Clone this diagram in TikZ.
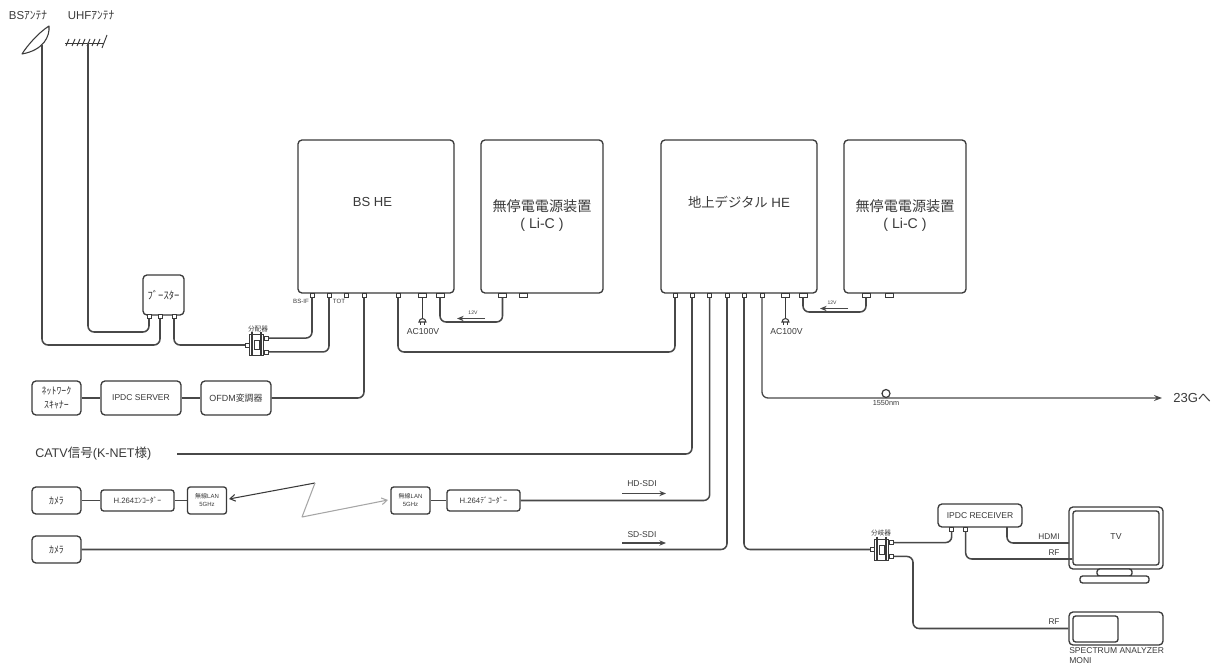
\documentclass[tikz,border=0pt]{standalone}
\usepackage{fontspec}
\setmainfont{Liberation Sans}
\newfontfamily\cjk{Noto Sans CJK JP}
\usetikzlibrary{arrows.meta,calc}
\definecolor{ink}{HTML}{3A3A3A}
\definecolor{wirec}{HTML}{484848}
\tikzset{
  sz/.style 2 args={minimum width=#1*0.75pt,minimum height=#2*0.75pt},
  rbox/.style={draw=ink,line width=1pt,rounded corners=3pt,fill=white,inner sep=0pt,align=center,text=ink},
  sbox/.style={rbox,rounded corners=2pt},
  port/.style={draw=ink,line width=.6pt,fill=white,inner sep=0pt,minimum width=3pt,minimum height=3pt},
  dport/.style={port,minimum width=6pt},
  wire/.style={draw=wirec,line width=1.15pt,rounded corners=4.5pt},
  thin wire/.style={draw=ink,line width=.9pt},
  lab/.style={inner sep=0pt,text=ink,align=center},
  sig/.style={draw=wirec,line width=1.1pt,-{Stealth[length=5pt,width=4pt]}},
}
\newcommand{\splitter}[3]{%
  \node[draw=ink,line width=.7pt,fill=white,inner sep=0pt,sz={14}{21}] (#1) at (#2,#3) {};
  \node[draw=ink,line width=.6pt,fill=white,inner sep=0pt,sz={5}{9}] (#1c) at (#2,#3) {};
  \draw[ink,line width=1.2pt] (#1.north west) ++(2.2pt,1.5pt) -- ++(0,-18pt);
  \draw[ink,line width=1.2pt] (#1.north east) ++(-2.2pt,1.5pt) -- ++(0,-18pt);
  \node[port] (#1l) at ($(#1.west)+(-1.5pt,0)$) {};
  \node[port] (#1a) at ($(#1.east)+(1.5pt,5.2pt)$) {};
  \node[port] (#1b) at ($(#1.east)+(1.5pt,-5.2pt)$) {};
}
\newcommand{\upstext}{\raisebox{8.8pt}{\begin{tabular}{@{}c@{}}{\cjk 無停電電源装置}\\( Li-C )\end{tabular}}}
\begin{document}
\begin{tikzpicture}[x=0.75pt,y=-0.75pt]
\useasboundingbox (0,0) rectangle (1216,666);

% antennas
\node[lab,font=\fontsize{8.6}{9}\selectfont] (bsant) at (28,15) {BS{\cjk ｱﾝﾃﾅ}};
\node[lab,font=\fontsize{8.6}{9}\selectfont] (uhfant) at (91,15) {UHF{\cjk ｱﾝﾃﾅ}};
\draw[ink,line width=.8pt,line join=round,fill=white] (22,54) .. controls (27,46) and (38,33) .. (49,26) .. controls (50,36) and (44,50) .. (22,54) -- cycle;
\coordinate (dish) at (42,45);
\coordinate (yagi) at (88,43);
\draw[ink,line width=.7pt] (65,43) -- (104,43);
\foreach \xx in {66,72,77,82,87,92,97}{\draw[ink,line width=.7pt] (\xx,46) -- (\xx+3,39);}
\draw[ink,line width=.7pt] (102,48) -- (107,35);

% main boxes
\node[rbox,sz={156}{153},font=\fontsize{9.8}{12}\selectfont] (bshe) at (376,216.5) {\hspace*{-5.2pt}\raisebox{21.7pt}{BS HE}};
\node[rbox,sz={122}{153},font=\fontsize{10.6}{12.75}\selectfont] (ups1) at (542,216.5) {\upstext};
\node[rbox,sz={156}{153},font=\fontsize{10}{12}\selectfont] (dtv) at (739,216.5) {\raisebox{21.7pt}{{\cjk 地上デジタル} HE}};
\node[rbox,sz={122}{153},font=\fontsize{10.6}{12.75}\selectfont] (ups2) at (905,216.5) {\upstext};
\node[rbox,sz={41}{40},font=\fontsize{8}{9}\selectfont\cjk] (boost) at (163.5,295) {ﾌﾞｰｽﾀｰ};

% ports
\foreach \n/\xx in {b1/149,b2/160,b3/174}{\node[port] (\n) at (\xx,316.5) {};}
\foreach \n/\xx in {h1/312,h2/329,h3/346.7,h4/364,h5/398}{\node[port] (\n) at (\xx,295) {};}
\foreach \n/\xx in {h6/422.5,h7/440}{\node[dport] (\n) at (\xx,295) {};}
\foreach \n/\xx in {u1/502.5,u1b/523}{\node[dport] (\n) at (\xx,295) {};}
\foreach \n/\xx in {d1/675,d2/692,d3/709.7,d4/727,d5/744,d6/762}{\node[port] (\n) at (\xx,295) {};}
\foreach \n/\xx in {d7/785.5,d8/803}{\node[dport] (\n) at (\xx,295) {};}
\foreach \n/\xx in {u2/866,u2b/889}{\node[dport] (\n) at (\xx,295) {};}

\node[lab,font=\fontsize{4.6}{5}\selectfont] (bsif) at (301,301) {BS-IF};
\node[lab,font=\fontsize{4.6}{5}\selectfont] (tot) at (339,301) {TOT};

% splitters
\splitter{sa}{256.7}{345}
\splitter{sb}{881.7}{549.5}
\node[lab,font=\fontsize{5}{6}\selectfont\cjk] (salab) at (258,329) {分配器};
\node[lab,font=\fontsize{5}{6}\selectfont\cjk] (sblab) at (881,533) {分岐器};

% left rows
\node[rbox,sz={49}{34},font=\fontsize{7.4}{10.5}\selectfont\cjk] (scan) at (56.5,398) {ﾈｯﾄﾜｰｸ\\ｽｷｬﾅｰ};
\node[rbox,sz={80}{34},font=\fontsize{6.4}{8}\selectfont] (srv) at (141,398) {IPDC SERVER};
\node[rbox,sz={70}{34},font=\fontsize{6.7}{8}\selectfont] (ofdm) at (236,398) {OFDM{\cjk 変調器}};
\node[lab,anchor=west,font=\fontsize{9.4}{11}\selectfont] (catv) at (35,454) {CATV{\cjk 信号}(K-NET{\cjk 様})};
\coordinate (catvs) at (177,454);
\node[rbox,sz={49}{27},font=\fontsize{7.4}{8}\selectfont\cjk] (cam1) at (56.5,500.5) {ｶﾒﾗ};
\node[sbox,sz={73}{21},font=\fontsize{5.8}{7}\selectfont] (enc) at (137.5,500.5) {H.264{\cjk ｴﾝｺｰﾀﾞｰ}};
\node[sbox,sz={39}{27},font=\fontsize{4.5}{6}\selectfont] (lan1) at (207,500.5) {{\cjk 無線}LAN\\5GHz};
\node[sbox,sz={39}{27},font=\fontsize{4.5}{6}\selectfont] (lan2) at (410.5,500.5) {{\cjk 無線}LAN\\5GHz};
\node[sbox,sz={73}{21},font=\fontsize{5.8}{7}\selectfont] (dec) at (483.5,500.5) {H.264{\cjk ﾃﾞｺｰﾀﾞｰ}};
\node[rbox,sz={49}{27},font=\fontsize{7.4}{8}\selectfont\cjk] (cam2) at (56.5,549.5) {ｶﾒﾗ};

% right devices
\node[rbox,sz={84}{23},font=\fontsize{6.4}{8}\selectfont] (rcv) at (980,515.5) {IPDC RECEIVER};
\node[port] (r1) at (951.7,529) {};
\node[port] (r2) at (965.7,529) {};
\coordinate (r3) at (1007,527);
\node[rbox,sz={94}{62}] (tv) at (1116,538) {};
\node[rbox,sz={86}{54},rounded corners=2pt,font=\fontsize{6.5}{8}\selectfont] (tvs) at (1116,538) {\raisebox{1.5pt}{TV}};
\node[sbox,sz={35}{7}] (stand) at (1114.5,572.5) {};
\node[sbox,sz={69}{7}] (base) at (1114.5,579.5) {};
\node[rbox,sz={94}{33}] (spec) at (1116,628.5) {};
\node[sbox,sz={45}{26}] (specs) at (1095.5,629) {};
\node[lab,anchor=west,align=left,font=\fontsize{6.4}{7.5}\selectfont] (spect) at (1069,656) {SPECTRUM ANALYZER\\MONI};

% connectors
\draw[wire] (dish) -- (42,345) -- (160,345) -- (b2.south);
\draw[wire] (yagi) -- (88,332) -- (149,332) -- (b1.south);
\draw[wire] (b3.south) |- (sal.west);
\draw[wire] (saa.east) -| (h1.south);
\draw[wire] (sab.east) -| (h2.south);
\draw[wire] (scan) -- (srv);
\draw[wire] (srv) -- (ofdm);
\draw[wire] (ofdm) -| (h4.south);
\draw[wire] (h5.south) -- (398,352) -- (675,352) -- (d1.south);
\draw[wire] (h7.south) -- (440,322) -- (502.5,322) -- (u1.south);
\draw[wire] (d8.south) -- (803,312) -- (866,312) -- (u2.south);
\draw[wire] (catvs) -| (d2.south);
\draw[wire] (cam1) -- (enc);
\draw[wire] (enc) -- (lan1);
\draw[wire] (lan2) -- (dec);
\draw[wire] (dec) -| (d3.south);
\draw[wire] (cam2) -| (d4.south);
\draw[wire] (d5.south) |- (sbl.west);
\draw[wire] (sba.east) -| (r1.south);
\draw[wire] (r2.south) |- (tvs.west |- 0,559);
\draw[wire] (r3) |- (1069,543);
\draw[wire] (sbb.east) -| (913,628.5) -- (spec.west);

% AC plugs
\foreach \pp/\xx in {h6/422.5,d7/785.5}{
  \draw[thin wire] (\pp.south) -- (\xx,318);
  \draw[ink,line width=.8pt,fill=white] (\xx-3.5,322) arc[start angle=180,end angle=0,radius=2.6pt] -- cycle;
  \draw[ink,line width=.8pt] (\xx-2,322) -- (\xx-2,325) (\xx+2,322) -- (\xx+2,325);
}
\node[lab,font=\fontsize{6.5}{8}\selectfont] (ac1) at (423,332) {AC100V};
\node[lab,font=\fontsize{6.5}{8}\selectfont] (ac2) at (786.5,332) {AC100V};

% signal labels
\node[lab,font=\fontsize{3.8}{5}\selectfont] (v1) at (473,313) {12V};
\node[lab,font=\fontsize{3.8}{5}\selectfont] (v2) at (832,303) {12V};
\coordinate (v1a) at (485,318.5); \coordinate (v1b) at (457,318.5);
\coordinate (v2a) at (848,308.5); \coordinate (v2b) at (820,308.5);
\draw[sig] (v1a) -- (v1b);
\draw[sig] (v2a) -- (v2b);
\node[lab,font=\fontsize{6.4}{7}\selectfont] (hds) at (642,484) {HD-SDI};
\node[lab,font=\fontsize{6.4}{7}\selectfont] (sds) at (642,535) {SD-SDI};
\coordinate (hda) at (622,493.5); \coordinate (hdb) at (666,493.5);
\coordinate (sda) at (622,543); \coordinate (sdb) at (666,543);
\draw[sig] (hda) -- (hdb);
\draw[sig] (sda) -- (sdb);

% fibre
\coordinate (g23) at (1162,398);
\draw[wirec,line width=1pt,rounded corners=4.5pt,-{Stealth[length=6pt,width=4.5pt]}] (d6.south) |- (g23);
\node[draw=ink,line width=.9pt,fill=white,circle,inner sep=0pt,minimum size=6pt] (loop) at (886,393.5) {};
\node[lab,font=\fontsize{5.5}{6}\selectfont] (nm) at (886,403) {1550nm};
\node[lab,anchor=west,font=\fontsize{9.8}{11}\selectfont] (g23t) at (1173,398) {23G{\cjk へ}};

% wireless zigzag
\coordinate (z1) at (315,483);
\coordinate (z2) at (302,517);
\coordinate (z3) at (388,500);
\coordinate (z0) at (229,499);
\draw[ink,line width=.8pt,-{Straight Barb[length=4pt,width=5pt]}] (z1) -- (z0);
\draw[gray!70,line width=.8pt,line join=round,-{Straight Barb[length=4pt,width=5pt]}] (z1) -- (z2) -- (z3);

% receiver labels
\node[lab,font=\fontsize{6.2}{7}\selectfont] (hdmi) at (1049,537) {HDMI};
\node[lab,font=\fontsize{6.2}{7}\selectfont] (rf1) at (1054,553) {RF};
\node[lab,font=\fontsize{6.2}{7}\selectfont] (rf2) at (1054,622) {RF};
\end{tikzpicture}
\end{document}
